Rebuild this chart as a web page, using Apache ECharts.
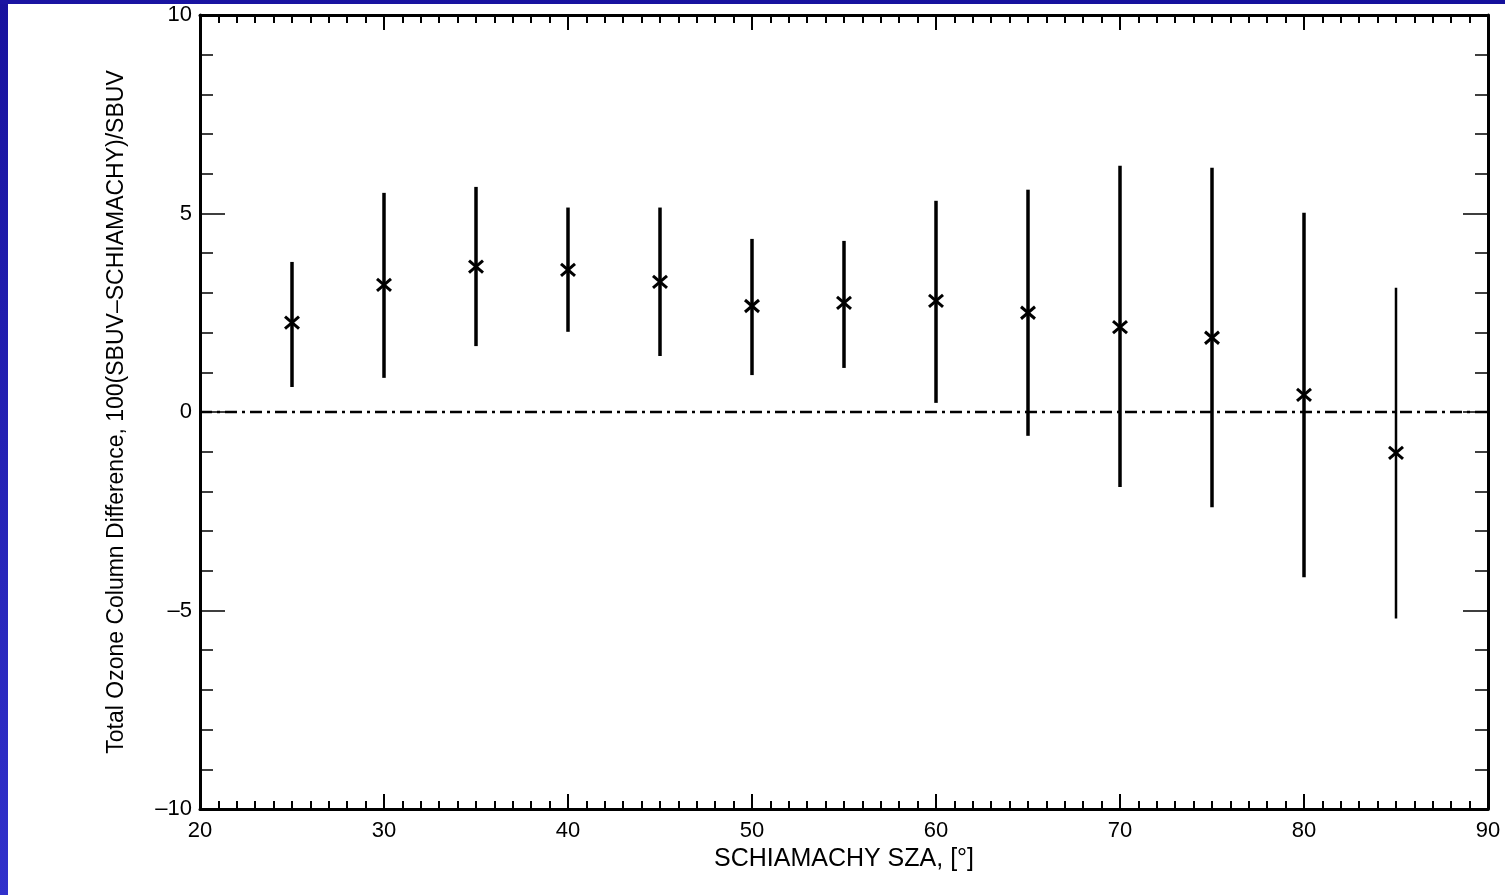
<!DOCTYPE html>
<html>
<head>
<meta charset="utf-8">
<script src="https://cdn.jsdelivr.net/npm/echarts@6/dist/echarts.min.js"></script>
<style>
html,body{margin:0;padding:0;background:#fff;}
#chart{width:1505px;height:895px;}
</style>
</head>
<body>
<div id="chart"></div>
<script>
// Data
const sza   = [25, 30, 35, 40, 45, 50, 55, 60, 65, 70, 75, 80, 85];
const meanDiff = [2.25, 3.2, 3.66, 3.58, 3.28, 2.67, 2.75, 2.8, 2.5, 2.14, 1.87, 0.43, -1.03];
const upper = [3.78, 5.52, 5.67, 5.15, 5.15, 4.36, 4.31, 5.32, 5.6, 6.2, 6.15, 5.02, 3.13];
const lower = [0.63, 0.86, 1.66, 2.02, 1.41, 0.93, 1.11, 0.23, -0.6, -1.89, -2.4, -4.16, -5.2];
const xTicks = [20, 30, 40, 50, 60, 70, 80, 90];
const yTicks = [-10, -5, 0, 5, 10];
const refLine = [[20, 0], [90, 0]];

const chart = echarts.init(document.getElementById('chart'), null, {renderer: 'canvas'});
const FONT = '"Liberation Sans", Arial, Helvetica, sans-serif';

const rows = sza.map((x, i) => [x, meanDiff[i], lower[i], upper[i]]);

function fmtY(v){ return v < 0 ? '\u2013' + Math.abs(v) : String(v); }

const xBase = {
  type: 'value', min: xTicks[0], max: xTicks[xTicks.length - 1], interval: 10,
  splitLine: {show: false},
  axisLine: {show: true, onZero: false, lineStyle: {color: '#000', width: 3}},
  axisTick: {show: true, inside: true, length: 15, lineStyle: {color: '#000', width: 2}},
  minorTick: {show: true, splitNumber: 10, length: 8, lineStyle: {color: '#000', width: 2}},
};
const yBase = {
  type: 'value', min: yTicks[0], max: yTicks[yTicks.length - 1], interval: 5,
  splitLine: {show: false},
  axisLine: {show: true, onZero: false, lineStyle: {color: '#000', width: 3}},
  axisTick: {show: true, inside: true, length: 25, lineStyle: {color: '#000', width: 1.5}},
  minorTick: {show: true, splitNumber: 5, length: 13, lineStyle: {color: '#000', width: 1.5}},
};

const option = {
  backgroundColor: '#ffffff',
  animation: false,
  graphic: [
    {type: 'rect', left: 0, top: 0, shape: {width: 8, height: 895},
     style: {fill: new echarts.graphic.LinearGradient(0, 0, 0, 1, [
       {offset: 0, color: '#18129e'}, {offset: 1, color: '#3131cb'}])}},
    {type: 'rect', left: 0, top: 0, shape: {width: 1505, height: 4},
     style: {fill: new echarts.graphic.LinearGradient(0, 0, 1, 0, [
       {offset: 0, color: '#1a14a2'}, {offset: 1, color: '#14109c'}])}}
  ],
  grid: {left: 200, top: 15, right: 17, bottom: 86, containLabel: false},
  xAxis: [
    Object.assign({}, xBase, {
      position: 'bottom',
      name: 'SCHIAMACHY SZA, [°]', nameLocation: 'middle', nameGap: 34,
      nameTextStyle: {color: '#000', fontSize: 25, fontFamily: FONT},
      axisLabel: {color: '#000', fontSize: 22, fontFamily: FONT, margin: 11}
    }),
    Object.assign({}, xBase, {position: 'top', axisLabel: {show: false}})
  ],
  yAxis: [
    Object.assign({}, yBase, {
      position: 'left',
      name: 'Total Ozone Column Difference, 100(SBUV\u2013SCHIAMACHY)/SBUV',
      nameLocation: 'middle', nameGap: 72, nameRotate: 90,
      nameTextStyle: {color: '#000', fontSize: 23, fontFamily: FONT},
      axisLabel: {color: '#000', fontSize: 22, fontFamily: FONT, margin: 8, formatter: fmtY}
    }),
    Object.assign({}, yBase, {position: 'right', axisLabel: {show: false}})
  ],
  series: [
    {
      type: 'line', data: refLine, symbol: 'none', silent: true,
      lineStyle: {color: '#000', width: 2.5, type: [12, 5, 3, 5]}, z: 1
    },
    {
      type: 'custom', data: rows, z: 3,
      encode: {x: 0, y: [1, 2, 3]},
      renderItem: function (params, api) {
        const x = api.value(0);
        const pc = api.coord([x, api.value(1)]);
        const plo = api.coord([x, api.value(2)]);
        const phi = api.coord([x, api.value(3)]);
        const w = params.dataIndex === rows.length - 1 ? 2.5 : 3.5;
        const hx = 7, hy = 6;
        return {
          type: 'group',
          children: [
            {type: 'line', shape: {x1: phi[0], y1: phi[1], x2: plo[0], y2: plo[1]},
             style: {stroke: '#000', lineWidth: w}},
            {type: 'line', shape: {x1: pc[0] - hx, y1: pc[1] - hy, x2: pc[0] + hx, y2: pc[1] + hy},
             style: {stroke: '#000', lineWidth: 3}},
            {type: 'line', shape: {x1: pc[0] - hx, y1: pc[1] + hy, x2: pc[0] + hx, y2: pc[1] - hy},
             style: {stroke: '#000', lineWidth: 3}}
          ]
        };
      }
    }
  ]
};
chart.setOption(option);
</script>
</body>
</html>
